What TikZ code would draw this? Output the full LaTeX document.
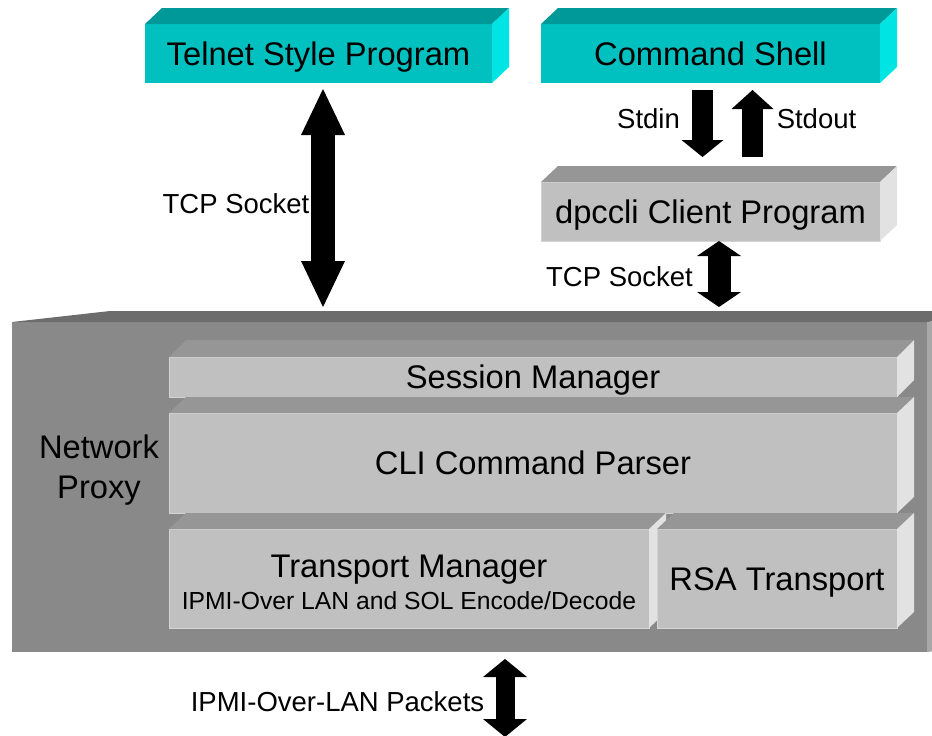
\documentclass[tikz,border=0pt]{standalone}
\usepackage{fontspec}
\setmainfont{Liberation Sans}
\usetikzlibrary{arrows.meta,calc}

\definecolor{tealfront}{RGB}{0,192,192}
\definecolor{tealtop}{RGB}{0,153,153}
\definecolor{tealside}{RGB}{0,228,228}
\definecolor{slabfront}{RGB}{192,192,192}
\definecolor{slabtop}{RGB}{150,150,150}
\definecolor{slabside}{RGB}{226,226,226}
\definecolor{slabedge}{RGB}{212,212,212}
\definecolor{proxyfront}{RGB}{137,137,137}
\definecolor{proxytop}{RGB}{108,108,108}
\definecolor{proxyside}{RGB}{168,168,168}

% top and right faces of a box node: name, dx, dy, top colour, side colour
\newcommand{\boxfaces}[5]{%
  \fill[#4] (#1.north west) -- ++(#2,#3) -- ($(#1.north east)+(#2,#3)$) -- (#1.north east) -- cycle;
  \fill[#5] (#1.north east) -- ++(#2,#3) -- ($(#1.south east)+(#2,#3)$) -- (#1.south east) -- cycle;
  \coordinate (#1-lid) at ($(#1.north)+(0,#3)$);
}

\begin{document}
\begin{tikzpicture}[x=1pt, y=-1pt,
        face/.style={inner sep=0pt, outer sep=0pt, font=\fontsize{32.7}{38}\selectfont, text height=23.4pt, text depth=0pt},
        teal box/.style={face, fill=tealfront},
        slab/.style={face, fill=slabfront, draw=slabedge, line width=1pt},
        plain/.style={inner sep=0pt, outer sep=0pt},
        lbl/.style={inner sep=0pt, font=\fontsize{27.5}{32}\selectfont, text height=19.7pt, text depth=0pt},
        fat/.style={line width=#1, >={Triangle[width=44pt,length=17pt,line width=0pt]}}
    ]
    \useasboundingbox (0,0) rectangle (932,736);
    \clip (0,0) rectangle (932,736);

    % Network proxy frame
    \node[face, fill=proxyfront, minimum width=915pt, minimum height=330pt] (proxy) at (469.5,487) {};
    \boxfaces{proxy}{98}{-11}{proxytop}{proxyside}
    \node[plain, align=center, font=\fontsize{32.7}{40}\selectfont] (proxy-name) at (99,470.5) {Network\\Proxy};

    % Layers inside the proxy
    \node[slab, minimum width=728pt, minimum height=40pt] (session) at (533,377) {Session Manager};
    \boxfaces{session}{17}{-17}{slabtop}{slabside}
    \node[slab, minimum width=728pt, minimum height=100pt] (parser) at (533,463) {CLI Command Parser};
    \boxfaces{parser}{17}{-16}{slabtop}{slabside}
    \node[slab, minimum width=480pt, minimum height=99pt] (transport) at (409,578.5) {};
    \boxfaces{transport}{17}{-16}{slabtop}{slabside}
    \node[slab, minimum width=240pt, minimum height=99pt] (rsa) at (777,578.5) {RSA Transport};
    \boxfaces{rsa}{17}{-16}{slabtop}{slabside}
    \node[plain, anchor=base, font=\fontsize{32.7}{38}\selectfont] (transport-name) at (409,577) {Transport Manager};
    \node[plain, anchor=base, font=\fontsize{24.7}{28}\selectfont] (transport-note) at (409,609) {IPMI-Over LAN and SOL Encode/Decode};

    % Programs on top
    \node[teal box, minimum width=347pt, minimum height=59pt] (telnet) at (318.5,53.5) {Telnet Style Program};
    \boxfaces{telnet}{17}{-16}{tealtop}{tealside}
    \node[teal box, minimum width=339pt, minimum height=59pt] (shell) at (710.5,53.5) {Command Shell};
    \boxfaces{shell}{17}{-16}{tealtop}{tealside}
    \node[slab, minimum width=339pt, minimum height=59pt] (client) at (710.5,211.5) {dpccli Client Program};
    \boxfaces{client}{17}{-16}{slabtop}{slabside}

    % Arrows
    \draw[fat=24pt, >={Triangle[width=44pt,length=46pt,line width=0pt]}, <->, shorten <=6pt, shorten >=4pt]
        ([xshift=4.5pt]telnet.south) -- ([xshift=4.5pt]telnet.south |- proxy-lid);
    \draw[fat=21pt, >={Triangle[width=42pt,length=17pt,line width=0pt]}, ->, shorten <=7pt, shorten >=9pt]
        ([xshift=-8pt]shell.south) -- ([xshift=-8pt]shell.south |- client-lid);
    \draw[fat=21pt, >={Triangle[width=42pt,length=19pt,line width=0pt]}, ->, shorten <=9pt, shorten >=7pt]
        ([xshift=42pt]client-lid) -- ([xshift=42pt]client-lid |- shell.south);
    \draw[fat=23pt, >={Triangle[width=44pt,length=15pt,line width=0pt]}, <->, shorten >=4pt]
        ([xshift=8.5pt]client.south) -- ([xshift=8.5pt]client.south |- proxy-lid);
    \coordinate (lan) at (505,737);
    \draw[fat=19pt, >={Triangle[width=44pt,length=18pt,line width=0pt]}, <->, shorten <=7pt]
        ([xshift=35.5pt]proxy.south) -- (lan);

    % Labels
    \node[lbl] (tcp-left) at (236,204) {TCP Socket};
    \node[lbl] (stdin) at (648.5,119) {Stdin};
    \node[lbl] (stdout) at (816.5,119) {Stdout};
    \node[lbl] (tcp-right) at (619.5,277) {TCP Socket};
    \node[lbl] (packets) at (337.5,702) {IPMI-Over-LAN Packets};
\end{tikzpicture}
\end{document}
